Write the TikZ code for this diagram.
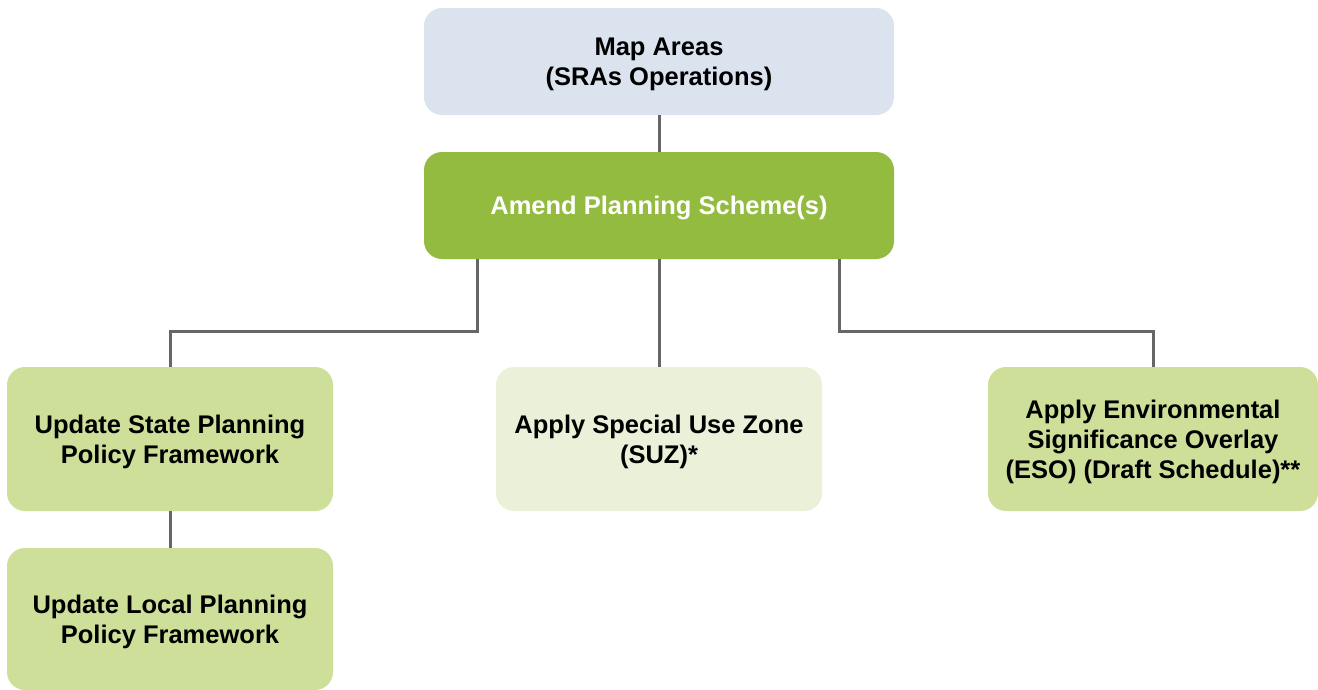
\documentclass[tikz,border=0pt]{standalone}
\usepackage{fontspec}
\setmainfont{Liberation Sans}
\usetikzlibrary{calc}
\definecolor{mapblue}{HTML}{DAE3EE}
\definecolor{amendgreen}{HTML}{93BB3F}
\definecolor{midgreen}{HTML}{CDDF98}
\definecolor{palegreen}{HTML}{EAF1D8}
\definecolor{linkgray}{HTML}{666666}
% strut on the first line: lowers the label a little inside its box
\newcommand{\leadstrut}{\rule{0pt}{24pt}}
\begin{document}
\begin{tikzpicture}[x=1pt,y=-1pt,
  box/.style={rounded corners=18pt, minimum width=326pt, minimum height=144pt,
    align=center, font=\bfseries\fontsize{25.5}{30}\selectfont, inner sep=0pt},
  link/.style={draw=linkgray, line width=3pt}]
\useasboundingbox (0,0) rectangle (1318,689);
\fill[white] (0,0) rectangle (1318,689);

% nodes
\node[box, fill=mapblue, minimum width=470pt, minimum height=107pt] (map) at (659,61.5)
  {\leadstrut Map Areas\\(SRAs Operations)};
\node[box, fill=amendgreen, text=white, minimum width=470pt, minimum height=107pt] (amend) at (659,205.5)
  {\leadstrut Amend Planning Scheme(s)};
\node[box, fill=midgreen] (state) at (170,439)
  {\leadstrut Update State Planning\\Policy Framework};
\node[box, fill=midgreen, minimum height=142pt] (local) at (170,619)
  {\leadstrut Update Local Planning\\Policy Framework};
\node[box, fill=palegreen] (suz) at (659,439)
  {\leadstrut Apply Special Use Zone\\(SUZ)*};
\node[box, fill=midgreen, minimum width=330pt] (eso) at (1153,439)
  {\leadstrut Apply Environmental\\Significance Overlay\\(ESO) (Draft Schedule)**};

% branch points on the scheme box
\coordinate (amendL) at ([xshift=-182pt]amend.south);
\coordinate (amendR) at ([xshift=180pt]amend.south);

% connectors
\draw[link] (map.south) -- (amend.north);
\draw[link] (amendL) -- ++(0,72) -| (state.north);
\draw[link] (amend.south) -- (suz.north);
\draw[link] (amendR) -- ++(0,72) -| (eso.north);
\draw[link] (state.south) -- (local.north);
\end{tikzpicture}
\end{document}
